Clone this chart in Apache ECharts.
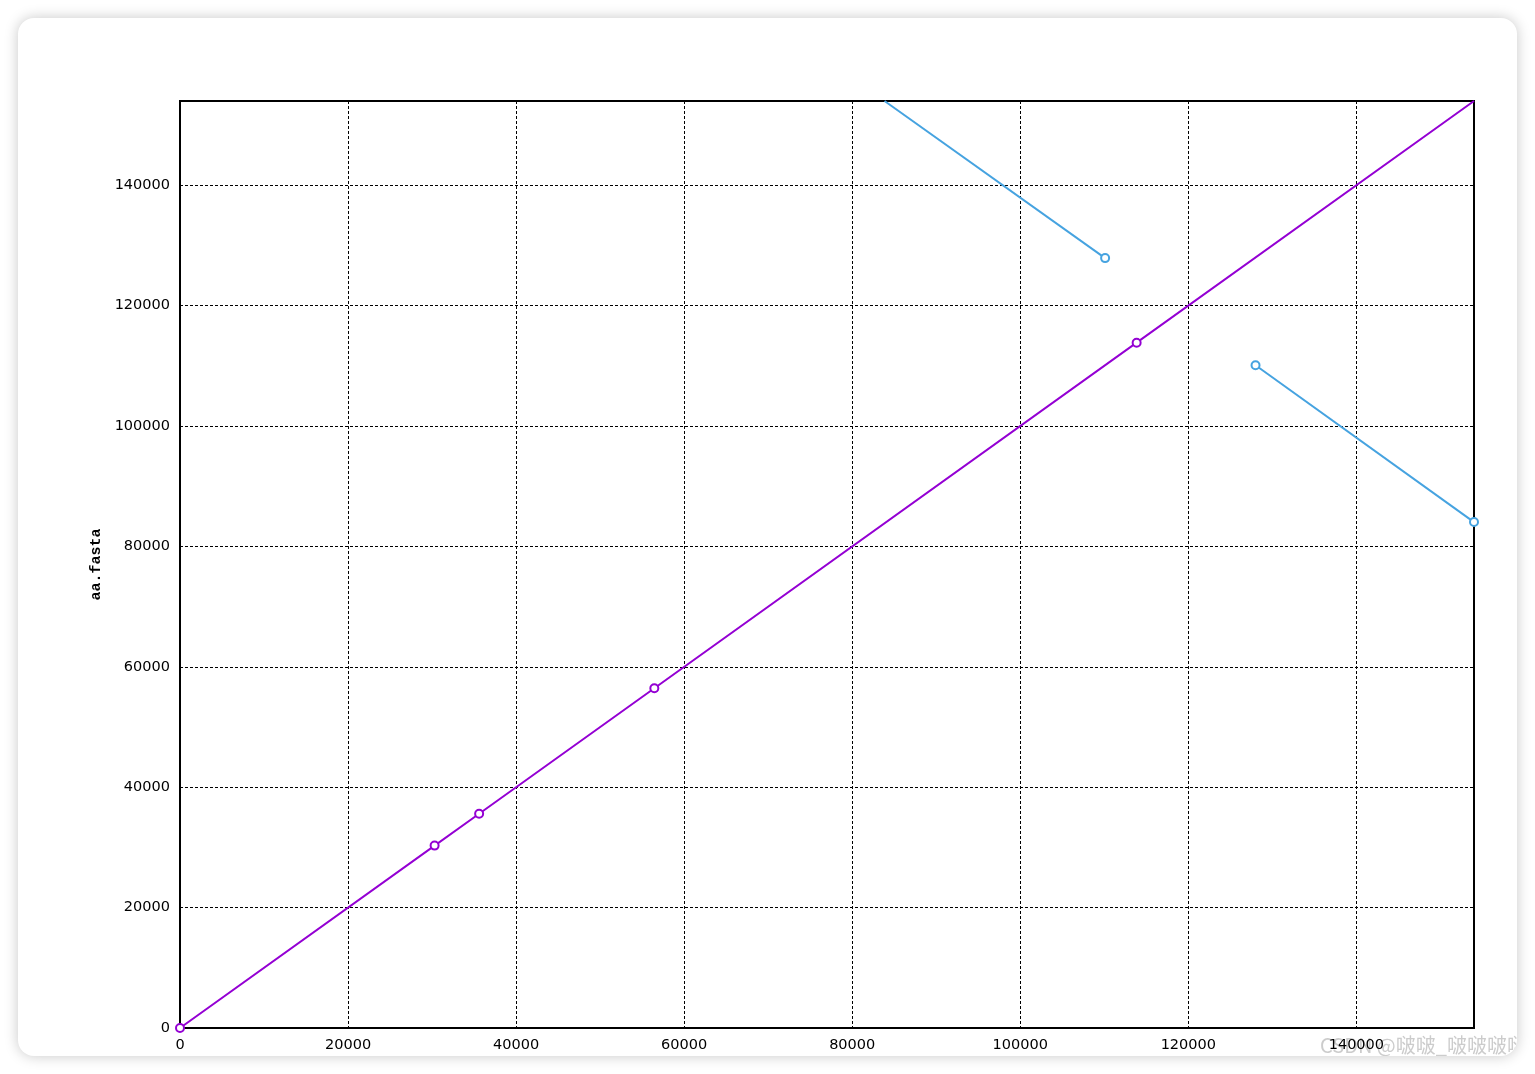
<!DOCTYPE html>
<html>
<head>
<meta charset="utf-8">
<script src="https://cdn.jsdelivr.net/npm/echarts@6/dist/echarts.min.js"></script>
<style>
  html, body { margin: 0; padding: 0; background: #ffffff; width: 1535px; height: 1074px; overflow: hidden; }
  #card { position: absolute; left: 18px; top: 18px; width: 1499px; height: 1038px; background: #fff;
          border-radius: 16px; box-shadow: 0 0 14px rgba(0,0,0,0.22); overflow: hidden; }
  #chart { width: 1499px; height: 1038px; }
</style>
</head>
<body>
<div id="card"><div id="chart"></div></div>
<script>
// ---- data ----
const axisMin = 0;
const axisMax = 154000;
const tickStep = 20000;
const yAxisName = 'aa.fasta';
const forwardX = [0, 30300, 35600, 56450, 113850, 154000];
const forwardY = [0, 30300, 35600, 56450, 113850, 154000];
const reverse1X = [83850, 110100];
const reverse1Y = [154000, 127900];
const reverse2X = [128000, 154000];
const reverse2Y = [110100, 84050];
const watermark = 'CSDN @啵啵_啵啵啵啵';

function pairs(xs, ys) { return xs.map((x, i) => [x, ys[i]]); }

const fwdData = pairs(forwardX, forwardY).map((p, i, arr) =>
  i === arr.length - 1 ? { value: p, symbol: 'none' } : { value: p });
const rev1Data = pairs(reverse1X, reverse1Y).map((p, i) =>
  i === 0 ? { value: p, symbol: 'none' } : { value: p });
const rev2Data = pairs(reverse2X, reverse2Y);

const tickFmt = v => (v % tickStep === 0 ? String(v) : '');
const labelFont = { fontFamily: 'DejaVu Sans', fontSize: 14.5, color: '#000' };
const split = { show: true, lineStyle: { color: '#000', width: 1, type: [3, 2] } };

const chart = echarts.init(document.getElementById('chart'), null, { renderer: 'canvas' });
chart.setOption({
  animation: false,
  backgroundColor: 'transparent',
  grid: { left: 162, top: 83, width: 1294, height: 927, show: true, borderColor: '#000', borderWidth: 2, backgroundColor: 'transparent' },
  xAxis: {
    type: 'value', min: axisMin, max: axisMax, interval: tickStep,
    axisLine: { show: false }, axisTick: { show: false },
    axisLabel: Object.assign({ margin: 10, formatter: tickFmt }, labelFont),
    splitLine: split
  },
  yAxis: {
    type: 'value', min: axisMin, max: axisMax, interval: tickStep,
    name: yAxisName, nameLocation: 'middle', nameGap: 74,
    nameTextStyle: { fontFamily: 'Liberation Mono', fontWeight: 'bold', fontSize: 15, color: '#000' },
    axisLine: { show: false }, axisTick: { show: false },
    axisLabel: Object.assign({ margin: 10, formatter: tickFmt }, labelFont),
    splitLine: split
  },
  graphic: [{
    type: 'text', left: 1302, top: 1017, silent: true,
    style: { text: watermark, font: '20px "Noto Sans CJK SC", sans-serif', fill: '#cccccc' }
  }],
  series: [
    { type: 'line', data: fwdData, symbol: 'emptyCircle', symbolSize: 8, color: '#9400d3',
      lineStyle: { width: 2 }, itemStyle: { borderWidth: 2.5 } },
    { type: 'line', data: rev1Data, symbol: 'emptyCircle', symbolSize: 8, color: '#46a3e0',
      lineStyle: { width: 2 }, itemStyle: { borderWidth: 2.5 } },
    { type: 'line', data: rev2Data, symbol: 'emptyCircle', symbolSize: 8, color: '#46a3e0',
      lineStyle: { width: 2 }, itemStyle: { borderWidth: 2.5 } }
  ]
});
</script>
</body>
</html>
